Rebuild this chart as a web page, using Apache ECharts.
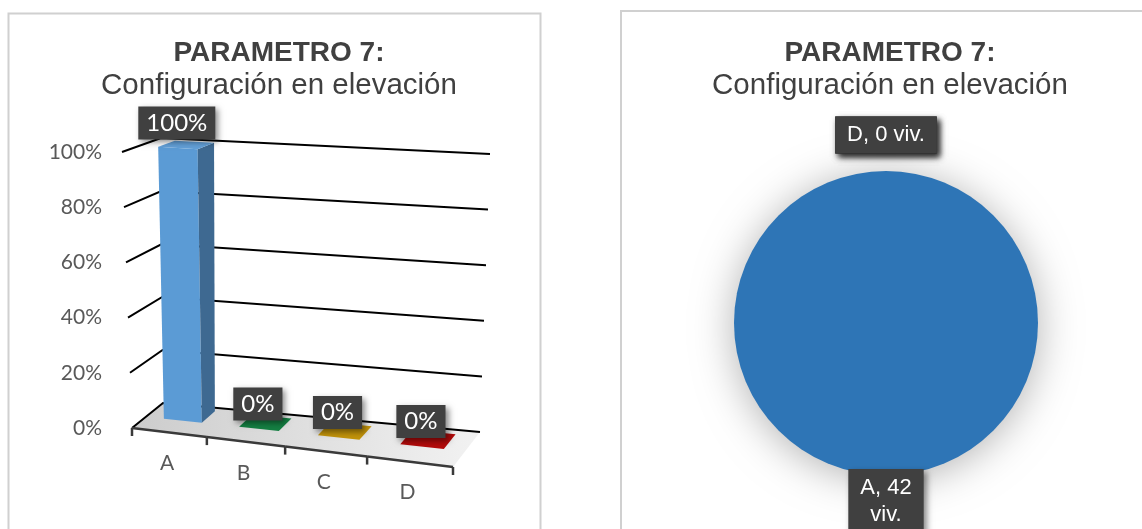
<!DOCTYPE html>
<html><head><meta charset="utf-8">
<script src="https://cdn.jsdelivr.net/npm/echarts@6/dist/echarts.min.js"></script>
<style>html,body{margin:0;padding:0;background:#fff}#c{width:1142px;height:529px}</style>
</head><body><div id="c"></div>
<script>
// ---------- data ----------
const titleMain = 'PARAMETRO 7:';
const titleSub = 'Configuración en elevación';
const categories = ['A', 'B', 'C', 'D'];
const barShares = [1, 0, 0, 0];
const barLabels = ['100%', '0%', '0%', '0%'];
const barColors = ['#5b9bd5', '#0a7a3a', '#bf8f00', '#b00000'];
const yTicks = [0, 0.2, 0.4, 0.6, 0.8, 1];
const yTickLabels = ['0%', '20%', '40%', '60%', '80%', '100%'];
const pieNames = ['A', 'B', 'C', 'D'];
const pieValues = [42, 0, 0, 0];
const pieColors = ['#2e75b6', '#ed7d31', '#a5a5a5', '#ffc000'];
const unitText = 'viv.';

// ---------- 3D projection frame (layout) ----------
const BOX = {
  FLB: [132, 428], FRB: [453, 467], BLB: [163, 403], BRB: [480, 432],
  FLT: [122, 152], FRT: [456, 175], BLT: [161, 138], BRT: [490, 154]
};
const PERSP = 1.096;
const BAR_W0 = 0.45, BAR_W1 = 0.88, BAR_HALF = 0.255;
function warp(u) { return u / (PERSP + (1 - PERSP) * u); }
function lerp(a, b, t) { return [a[0] + (b[0] - a[0]) * t, a[1] + (b[1] - a[1]) * t]; }
function proj(u, v, w) {
  const f = warp(u);
  const b = lerp(lerp(BOX.FLB, BOX.FRB, f), lerp(BOX.BLB, BOX.BRB, f), w);
  const t = lerp(lerp(BOX.FLT, BOX.FRT, f), lerp(BOX.BLT, BOX.BRT, f), w);
  return lerp(b, t, v);
}
function toU(cs, px) { return (px - cs.x) / cs.width; }
function toV(cs, py) { return (cs.y + cs.height - py) / cs.height; }
function shade(hex, k) {
  const n = parseInt(hex.slice(1), 16);
  const c = [(n >> 16) & 255, (n >> 8) & 255, n & 255].map(x => Math.max(0, Math.min(255, Math.round(k >= 1 ? x + (255 - x) * (k - 1) : x * k))));
  return 'rgb(' + c.join(',') + ')';
}

const AX_FONT = 'Lato';
const TITLE_FONT = 'Liberation Sans';

const measureCtx = document.createElement('canvas').getContext('2d');
function wrapLabel(text, font, maxW) {
  measureCtx.font = font;
  if (measureCtx.measureText(text).width <= maxW) return text;
  const i = text.lastIndexOf(' ');
  return text.slice(0, i) + '\n' + text.slice(i + 1);
}

function titleText() { return '{b|' + titleMain + '}\n{n|' + titleSub + '}'; }
const titleRich = {
  b: { fontFamily: TITLE_FONT, fontSize: 28, fontWeight: 'bold', color: '#404040', lineHeight: 31 },
  n: { fontFamily: TITLE_FONT, fontSize: 29.5, fontWeight: 'normal', color: '#404040', lineHeight: 33 }
};

const chart = echarts.init(document.getElementById('c'), null, { renderer: 'canvas' });
const option = {
  animation: false,
  backgroundColor: '#ffffff',
  title: [
    { text: titleText(), left: 274, top: 33, textAlign: 'center', textStyle: { rich: titleRich } },
    { text: titleText(), left: 885, top: 33, textAlign: 'center', textStyle: { rich: titleRich } }
  ],
  graphic: [
    { type: 'rect', silent: true, z: -10, shape: { x: 8.5, y: 13.5, width: 532, height: 540 }, style: { fill: 'none', stroke: '#d0d0d0', lineWidth: 2 } },
    { type: 'rect', silent: true, z: -10, shape: { x: 621, y: 11, width: 540, height: 540 }, style: { fill: 'none', stroke: '#d0d0d0', lineWidth: 2 } }
  ],
  grid: { left: 122, top: 152, width: 331, height: 276 },
  xAxis: { type: 'category', data: categories, show: false },
  yAxis: {
    type: 'value', min: 0, max: 1, interval: 0.2,
    axisLine: { show: false }, axisTick: { show: false }, splitLine: { show: false },
    axisLabel: {
      margin: 20, color: '#595959', fontFamily: AX_FONT, fontSize: 21,
      formatter: v => yTickLabels[yTicks.findIndex(t => Math.abs(t - v) < 1e-9)]
    }
  },
  series: [
    { // floor
      type: 'custom', silent: true, clip: false, z: 1,
      data: [[0, 0]],
      renderItem: function (params, api) {
        const pts = [proj(0, 0, 0), proj(1, 0, 0), proj(1, 0, 1), proj(0, 0, 1)];
        return {
          type: 'polygon', shape: { points: pts },
          style: { fill: new echarts.graphic.LinearGradient(0, 0, 1, 0.3, [
            { offset: 0, color: '#cccccc' }, { offset: 1, color: '#f2f2f2' }]) }
        };
      }
    },
    { // walls gridlines
      type: 'custom', silent: true, clip: false, z: 2,
      data: yTicks.map(t => [0, t]),
      renderItem: function (params, api) {
        const cs = params.coordSys;
        const v = toV(cs, api.coord([0, api.value(1)])[1]);
        return {
          type: 'polyline',
          shape: { points: [proj(0, v, 0), proj(0, v, 1), proj(1, v, 1)] },
          style: { stroke: '#000000', lineWidth: 2, fill: null }
        };
      }
    },
    { // category axis
      type: 'custom', silent: true, clip: false, z: 3,
      data: categories.map((c, i) => [i, 0]),
      renderItem: function (params, api) {
        const cs = params.coordSys;
        const i = api.value(0);
        const p = api.coord([i, 0]);
        const band = api.size([1, 0])[0];
        const u0 = toU(cs, p[0] - band / 2), u1 = toU(cs, p[0] + band / 2), uc = toU(cs, p[0]);
        const a = proj(u0, 0, 0), b = proj(u1, 0, 0), c = proj(uc, 0, 0);
        const st = { stroke: '#3a3a3a', lineWidth: 2.5 };
        const children = [
          { type: 'line', shape: { x1: a[0], y1: a[1], x2: b[0], y2: b[1] }, style: st },
          { type: 'line', shape: { x1: a[0], y1: a[1], x2: a[0], y2: a[1] + 8 }, style: st },
          { type: 'text', style: { text: categories[i], x: c[0] - 2, y: c[1] + 31, align: 'center', verticalAlign: 'middle',
            fill: '#595959', fontFamily: AX_FONT, fontSize: 21 } }
        ];
        if (i === categories.length - 1) {
          children.push({ type: 'line', shape: { x1: b[0], y1: b[1], x2: b[0], y2: b[1] + 8 }, style: st });
        }
        return { type: 'group', children: children };
      }
    },
    { // 3D bars
      type: 'custom', silent: true, clip: false, z: 4,
      data: barShares.map((s, i) => [i, s]),
      renderItem: function (params, api) {
        const cs = params.coordSys;
        const i = api.value(0);
        const top = api.coord([i, api.value(1)]);
        const base = api.coord([i, 0]);
        const band = api.size([1, 0])[0];
        const uL = toU(cs, top[0] - band * BAR_HALF), uR = toU(cs, top[0] + band * BAR_HALF), uc = toU(cs, top[0]);
        const vT = toV(cs, top[1]), vB = toV(cs, base[1]);
        const col = barColors[i];
        const front = [proj(uL, vB, BAR_W0), proj(uR, vB, BAR_W0), proj(uR, vT, BAR_W0), proj(uL, vT, BAR_W0)];
        const side = [proj(uR, vB, BAR_W0), proj(uR, vB, BAR_W1), proj(uR, vT, BAR_W1), proj(uR, vT, BAR_W0)];
        const topF = [proj(uL, vT, BAR_W0), proj(uR, vT, BAR_W0), proj(uR, vT, BAR_W1), proj(uL, vT, BAR_W1)];
        const lp = proj(uc, vT, BAR_W0);
        return {
          type: 'group', children: [
            { type: 'polygon', shape: { points: front }, style: { fill: col } },
            { type: 'polygon', shape: { points: side }, style: { fill: shade(col, 0.68) } },
            { type: 'polygon', shape: { points: topF }, style: { fill: shade(col, 1.04) } },
            { type: 'text', z2: 10, style: {
              text: barLabels[i], x: lp[0] - 1, y: lp[1] - 25, align: 'center', verticalAlign: 'middle',
              fill: '#ffffff', fontFamily: AX_FONT, fontSize: 24, backgroundColor: '#404040', padding: [5, 8, 4, 8],
              shadowBlur: 6, shadowColor: 'rgba(0,0,0,0.45)', shadowOffsetX: 3, shadowOffsetY: 3 } }
          ]
        };
      }
    },
    { // pie
      type: 'pie', silent: true, center: [886, 323], radius: 152, startAngle: 90, clockwise: true,
      data: pieNames.map((n, i) => ({ name: n, value: pieValues[i], itemStyle: { color: pieColors[i] } })),
      itemStyle: { borderWidth: 0, shadowBlur: 40, shadowColor: 'rgba(0,0,0,0.3)', shadowOffsetY: 4 },
      label: {
        show: true, position: 'outside', color: '#ffffff', fontFamily: TITLE_FONT, fontSize: 22, lineHeight: 27,
        backgroundColor: '#404040', padding: [5, 12],
        shadowBlur: 6, shadowColor: 'rgba(0,0,0,0.45)', shadowOffsetX: 3, shadowOffsetY: 3,
        formatter: p => wrapLabel(p.name + ', ' + p.value + ' ' + unitText, '22px "Liberation Sans"', 85)
      },
      labelLine: { show: false },
      labelLayout: function (p) {
        const r = p.rect;
        if (pieValues[p.dataIndex] > 0) {
          return { x: r.x + r.width / 2, y: r.y + r.height + 26, align: 'center', verticalAlign: 'middle' };
        }
        return { x: r.x + r.width / 2, y: r.y - 36, align: 'center', verticalAlign: 'middle' };
      },
      emphasis: { disabled: true }
    }
  ]
};
chart.setOption(option);
</script></body></html>
